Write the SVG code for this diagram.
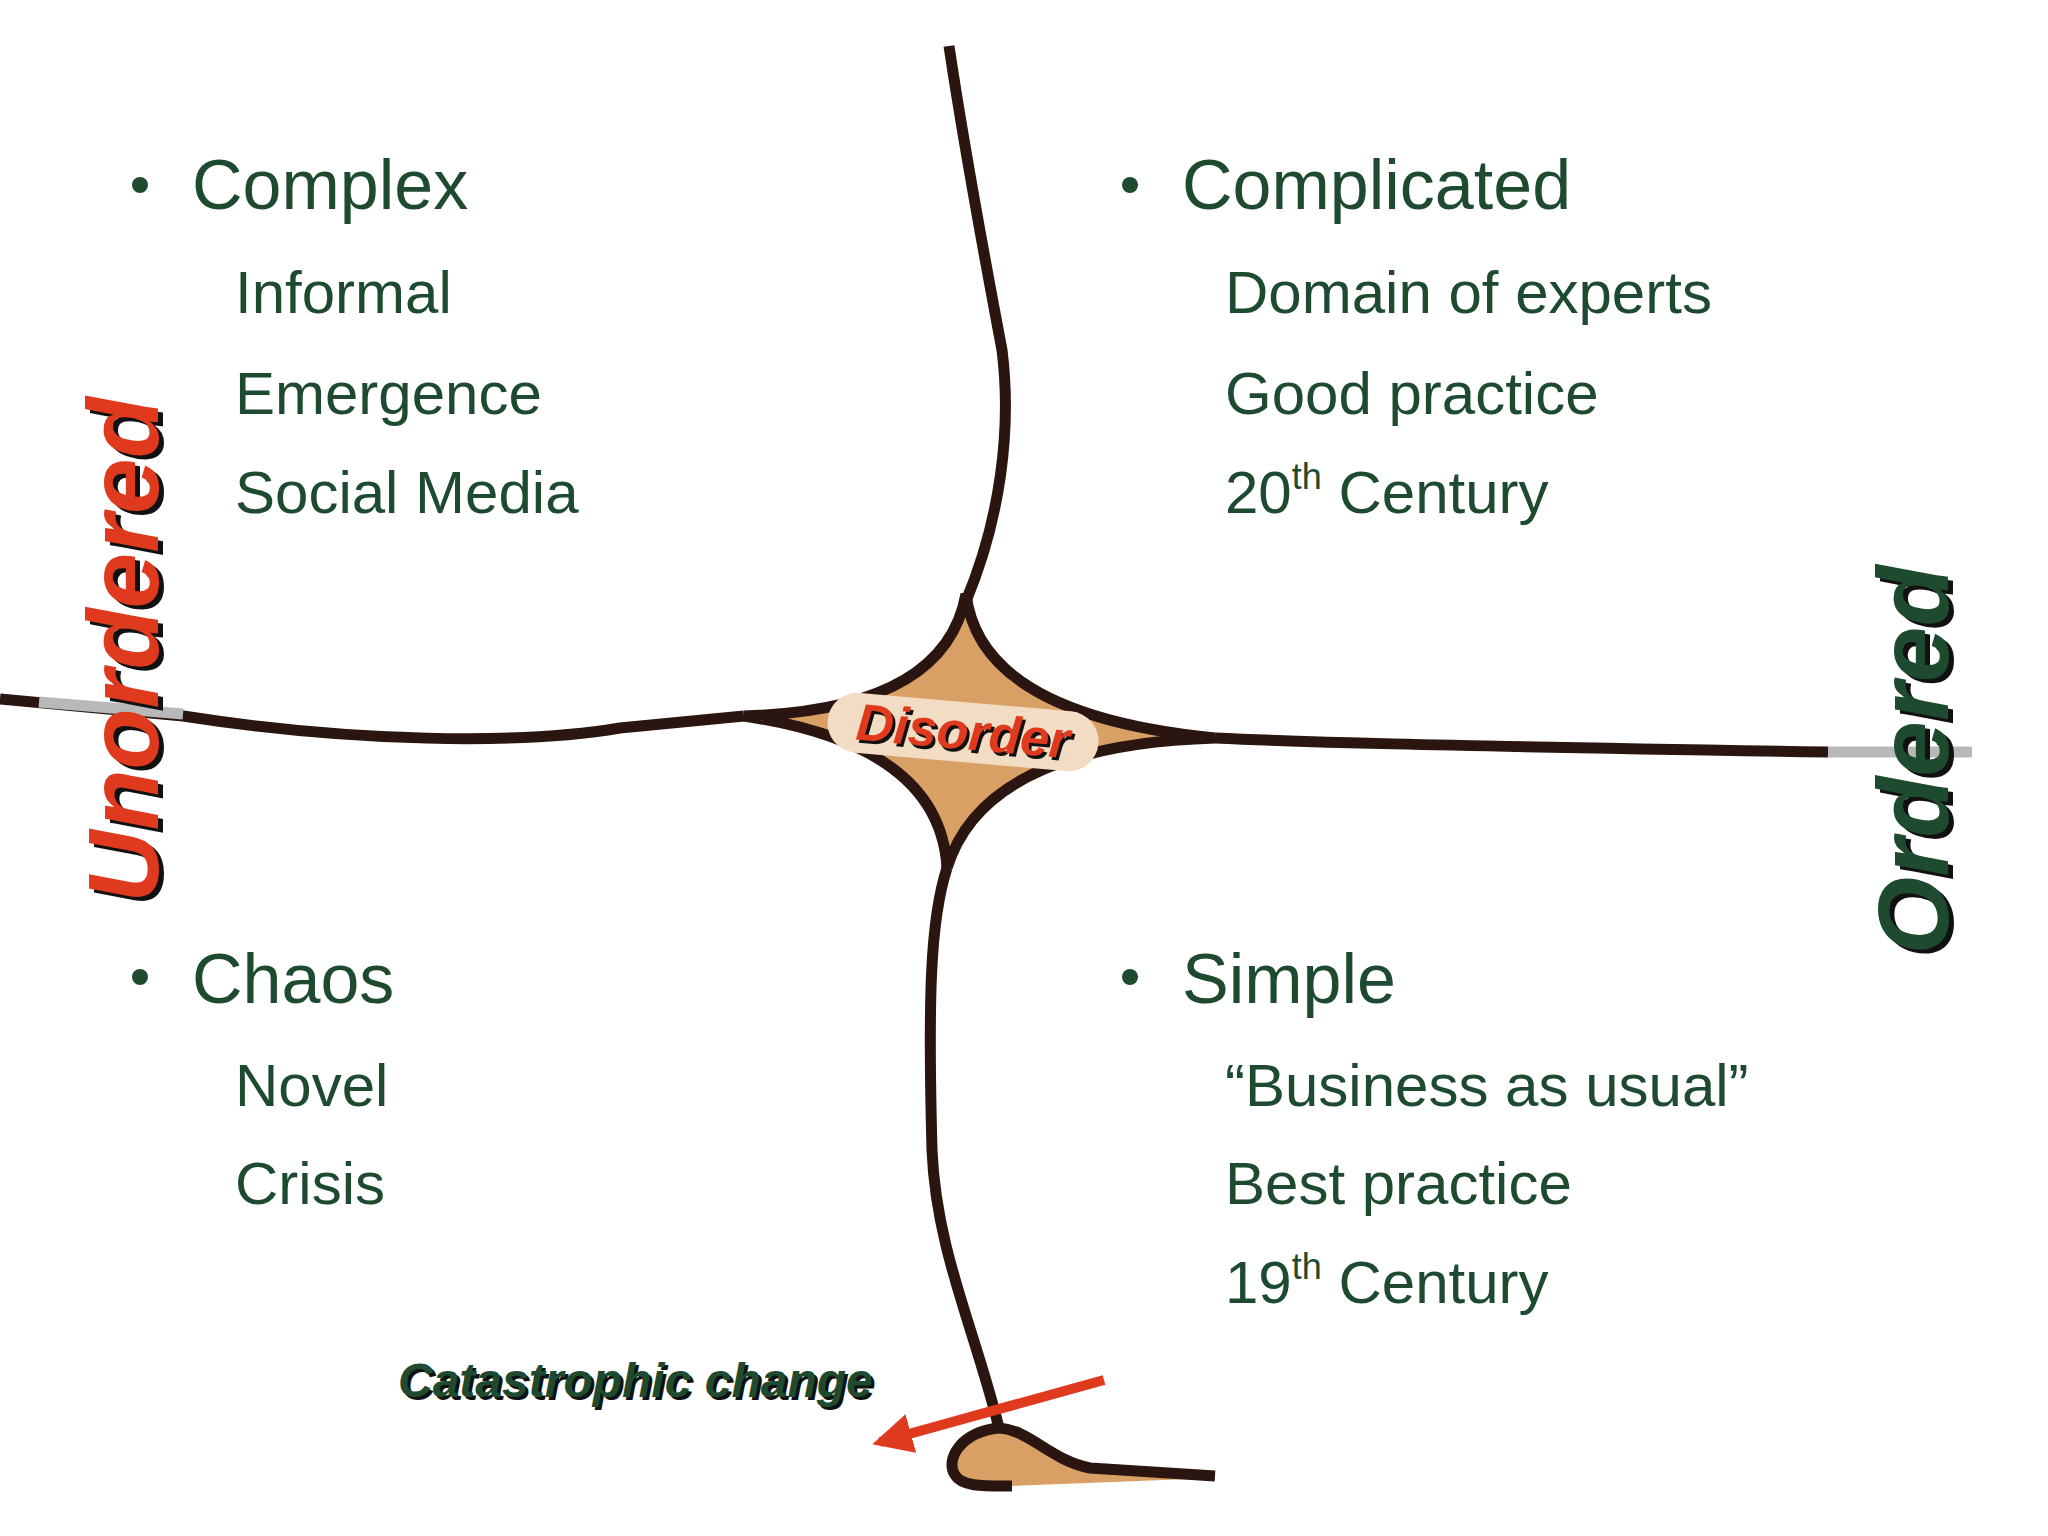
<svg xmlns="http://www.w3.org/2000/svg" width="2048" height="1536" viewBox="0 0 2048 1536">
<defs>
<style>
.item{font-family:"Liberation Sans",Arial,sans-serif;fill:#1e4a30}
.head{font-size:70px}
.sub{font-size:60px}
.line{fill:none;stroke:#2b1510;stroke-width:11;stroke-linecap:butt}
.big{font-family:"Liberation Sans",Arial,sans-serif;font-weight:bold;font-style:italic}
</style>
<marker id="ah" viewBox="0 0 10 10" refX="8" refY="5" markerWidth="4" markerHeight="4" orient="auto"><path d="M0,0 L10,5 L0,10 Z" fill="#e03a1e"/></marker>
</defs>
<rect width="2048" height="1536" fill="#ffffff"/>
<g id="connectors">
<path class="line" d="M949,46 C960,120 985,260 1002,350 C1012,430 1000,520 966,601"/>
<path class="line" d="M0,699 L183,716 C350,742 520,745 620,728 L744,716"/>
<line x1="39" y1="702" x2="183" y2="714" stroke="#b8b8b8" stroke-width="11"/>
<path class="line" d="M1215,738 C1300,742 1400,745 1828,752"/>
<line x1="1828" y1="752" x2="1972" y2="752" stroke="#b8b8b8" stroke-width="11"/>
<path class="line" d="M947,868 C930,920 928,1000 932,1150 C936,1250 975,1330 999,1428"/>
<path d="M999,1428 C1030,1430 1050,1460 1090,1468 L1215,1478 L1010,1486 C985,1486 962,1487 955,1475 C945,1460 960,1432 999,1428Z" fill="#d9a066"/>
<path class="line" d="M999,1428 C1030,1430 1050,1460 1090,1468 L1215,1476"/>
<path class="line" d="M999,1428 C960,1432 945,1460 955,1475 C962,1487 985,1486 1012,1486"/>
<line x1="1104" y1="1380" x2="880" y2="1442" stroke="#e03a1e" stroke-width="10" marker-end="url(#ah)"/>
</g>
<g id="disorder">
<path d="M966,594 Q980,715 1215,738 Q985,745 947,868 Q940,745 744,716 Q945,710 966,594Z" fill="#d9a066" stroke="#2b1510" stroke-width="11" stroke-linejoin="miter"/>
<rect x="827" y="702" width="272" height="60" rx="30" fill="#f3dcc4" transform="rotate(5 963 732)"/>
<text class="big" x="966" y="752" font-size="52" text-anchor="middle" fill="#111" transform="rotate(5 963 732)">Disorder</text>
<text class="big" x="963" y="749" font-size="52" text-anchor="middle" fill="#e03a1e" transform="rotate(5 963 732)">Disorder</text>
</g>
<g id="complex">
<circle cx="140" cy="185" r="8" fill="#1e4a30"/>
<text class="item head" x="192" y="209">Complex</text>
<text class="item sub" x="235" y="313">Informal</text>
<text class="item sub" x="235" y="414">Emergence</text>
<text class="item sub" x="235" y="513">Social Media</text>
</g>
<g id="complicated">
<circle cx="1130" cy="185" r="8" fill="#1e4a30"/>
<text class="item head" x="1182" y="209">Complicated</text>
<text class="item sub" x="1225" y="313">Domain of experts</text>
<text class="item sub" x="1225" y="414">Good practice</text>
<text class="item sub" x="1225" y="513">20<tspan font-size="36" dy="-24">th</tspan><tspan dy="24"> Century</tspan></text>
</g>
<g id="chaos">
<circle cx="140" cy="977" r="8" fill="#1e4a30"/>
<text class="item head" x="192" y="1003">Chaos</text>
<text class="item sub" x="235" y="1106">Novel</text>
<text class="item sub" x="235" y="1204">Crisis</text>
</g>
<g id="simple">
<circle cx="1130" cy="977" r="8" fill="#1e4a30"/>
<text class="item head" x="1182" y="1003">Simple</text>
<text class="item sub" x="1225" y="1106">“Business as usual”</text>
<text class="item sub" x="1225" y="1204">Best practice</text>
<text class="item sub" x="1225" y="1303">19<tspan font-size="36" dy="-24">th</tspan><tspan dy="24"> Century</tspan></text>
</g>
<g id="unordered">
<text class="big" font-size="100" text-anchor="middle" fill="#111" transform="translate(163,654) rotate(-90)">Unordered</text>
<text class="big" font-size="100" text-anchor="middle" fill="#e03a1e" transform="translate(158,650) rotate(-90)">Unordered</text>
</g>
<g id="ordered">
<text class="big" font-size="100" text-anchor="middle" fill="#111" transform="translate(1953,764) rotate(-90)">Ordered</text>
<text class="big" font-size="100" text-anchor="middle" fill="#1e4a30" transform="translate(1948,760) rotate(-90)">Ordered</text>
</g>
<g id="catastrophic">
<text class="big" x="401" y="1400" font-size="48" fill="#111">Catastrophic change</text>
<text class="big" x="398" y="1397" font-size="48" fill="#1e4a30">Catastrophic change</text>
</g>
</svg>
